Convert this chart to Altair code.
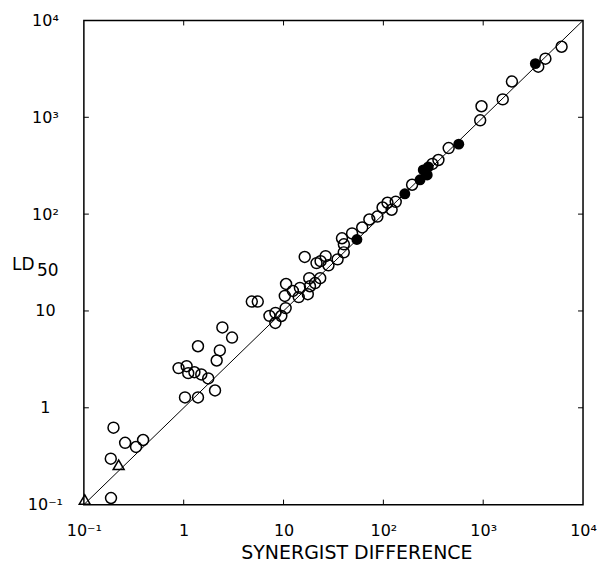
import altair as alt
import pandas as pd

# Open circles (synergist difference, LD50)
open_x = [0.187, 0.198, 0.186, 0.259, 0.333, 0.392, 1.03, 1.39, 2.06, 0.888,
          1.07, 1.11, 1.28, 1.50, 1.76, 1.39, 2.14, 2.30, 2.44, 3.05,
          4.81, 5.52, 7.23, 8.3, 9.5, 8.28, 10.5, 10.6, 10.3, 12.4,
          14.2, 14.6, 17.5, 18.4, 18.1, 20.7, 23.3, 16.3, 21.4, 23.5,
          26.4, 28.2, 34.8, 38.5, 40.2, 40.1, 48.6, 61.4, 72.4, 87.1,
          98.2, 110, 121, 133, 194, 310, 356, 451, 962, 933,
          1570, 1940, 3560, 4200, 6100]
open_y = [0.117, 0.623, 0.298, 0.435, 0.394, 0.465, 1.28, 1.28, 1.51, 2.57,
          2.69, 2.28, 2.33, 2.21, 2.01, 4.32, 3.08, 3.91, 6.76, 5.31,
          12.5, 12.5, 8.9, 9.55, 8.87, 7.52, 10.7, 19.0, 14.3, 16.1,
          13.9, 17.3, 14.9, 18.0, 21.8, 19.4, 21.8, 36.1, 31.2, 32.7,
          36.8, 29.6, 34.1, 56.3, 48.8, 40.3, 63.2, 72.8, 88, 94.4,
          117, 131, 111, 134, 201, 330, 362, 481, 1300, 931,
          1530, 2340, 3330, 4030, 5350]

# Filled circles
filled_x = [54.3, 164, 233, 251, 282, 275, 569, 3330]
filled_y = [54.7, 162, 226, 286, 307, 254, 528, 3580]

# Open triangles
tri_x = [0.102, 0.223]
tri_y = [0.113, 0.258]

# Line of equality
line_x = [0.1, 10000]
line_y = [0.1, 10000]

axis_vals = [0.1, 1, 10, 100, 1000, 10000]
tick_vals = [1, 10, 100, 1000]

W, H = 500, 485
FONT = "DejaVu Sans"

label_expr = ("datum.value < 0.5 ? '10\u207b\u00b9' : datum.value < 5 ? '1' : "
              "datum.value < 50 ? '10' : datum.value < 500 ? '10\u00b2' : "
              "datum.value < 5000 ? '10\u00b3' : '10\u2074'")

xscale = alt.Scale(type="log", domain=[0.1, 10000], nice=False)
yscale = alt.Scale(type="log", domain=[0.1, 10000], nice=False)

xaxis = alt.Axis(values=axis_vals, labelExpr=label_expr, domain=False, ticks=False,
                 tickSize=0, grid=False, labelFontSize=16, labelFont=FONT,
                 labelColor="black", labelPadding=18, labelAlign="center",
                 title="SYNERGIST DIFFERENCE", titleFont=FONT, titleFontSize=19,
                 titleFontWeight="normal", titleColor="black", titleX=273, titleY=48,
                 titleBaseline="middle", titleAlign="center", labelFlush=False)
yaxis = alt.Axis(values=axis_vals, labelExpr=label_expr, domain=False, ticks=False,
                 tickSize=0, grid=False, labelFontSize=16, labelFont=FONT,
                 labelColor="black", labelPadding=39, labelAlign="center",
                 labelBaseline="middle", title=None, labelFlush=False)

x_enc = alt.X("x:Q", scale=xscale, axis=xaxis)
y_enc = alt.Y("y:Q", scale=yscale, axis=yaxis)

open_df = pd.DataFrame({"x": open_x, "y": open_y})
filled_df = pd.DataFrame({"x": filled_x, "y": filled_y})
tri_df = pd.DataFrame({"x": tri_x, "y": tri_y})
line_df = pd.DataFrame({"x": line_x, "y": line_y})
tickx_df = pd.DataFrame({"x": tick_vals})
ticky_df = pd.DataFrame({"y": tick_vals})
one = pd.DataFrame({"k": [0]})

line = alt.Chart(line_df).mark_line(color="black", strokeWidth=1).encode(x=x_enc, y=y_enc)

opens = alt.Chart(open_df).mark_point(shape="circle", filled=False, size=120,
                                      stroke="black", strokeWidth=1.5, opacity=1).encode(x=x_enc, y=y_enc)
filleds = alt.Chart(filled_df).mark_point(shape="circle", filled=True, size=120,
                                          color="black", opacity=1).encode(x=x_enc, y=y_enc)
tris = alt.Chart(tri_df).mark_point(shape="triangle-up", filled=False, size=120,
                                    stroke="black", strokeWidth=1.5, opacity=1).encode(x=x_enc, y=y_enc)

tick_b = alt.Chart(tickx_df).mark_rule(color="black", strokeWidth=1).encode(
    x=x_enc, y=alt.value(H), y2=alt.value(H - 5))
tick_t = alt.Chart(tickx_df).mark_rule(color="black", strokeWidth=1).encode(
    x=x_enc, y=alt.value(0), y2=alt.value(5))
tick_l = alt.Chart(ticky_df).mark_rule(color="black", strokeWidth=1).encode(
    y=y_enc, x=alt.value(0), x2=alt.value(5))
tick_r = alt.Chart(ticky_df).mark_rule(color="black", strokeWidth=1).encode(
    y=y_enc, x=alt.value(W), x2=alt.value(W - 5))

ld = alt.Chart(one).mark_text(font=FONT, fontSize=17, align="left", baseline="middle",
                              color="black").encode(
    x=alt.value(-72), y=alt.value(245), text=alt.value("LD"))
sub = alt.Chart(one).mark_text(font=FONT, fontSize=17, align="left", baseline="middle",
                               color="black").encode(
    x=alt.value(-47), y=alt.value(251), text=alt.value("50"))

chart = alt.layer(line, tick_b, tick_t, tick_l, tick_r, opens, filleds, tris, ld, sub).properties(
    width=W, height=H,
    autosize=alt.AutoSizeParams(type="none"),
    padding={"left": 76, "top": 12, "right": 14, "bottom": 60},
    background="white",
).configure_view(stroke="black", strokeWidth=1.5)

chart.save("out.html", embed_options={"renderer": "svg", "actions": False})
